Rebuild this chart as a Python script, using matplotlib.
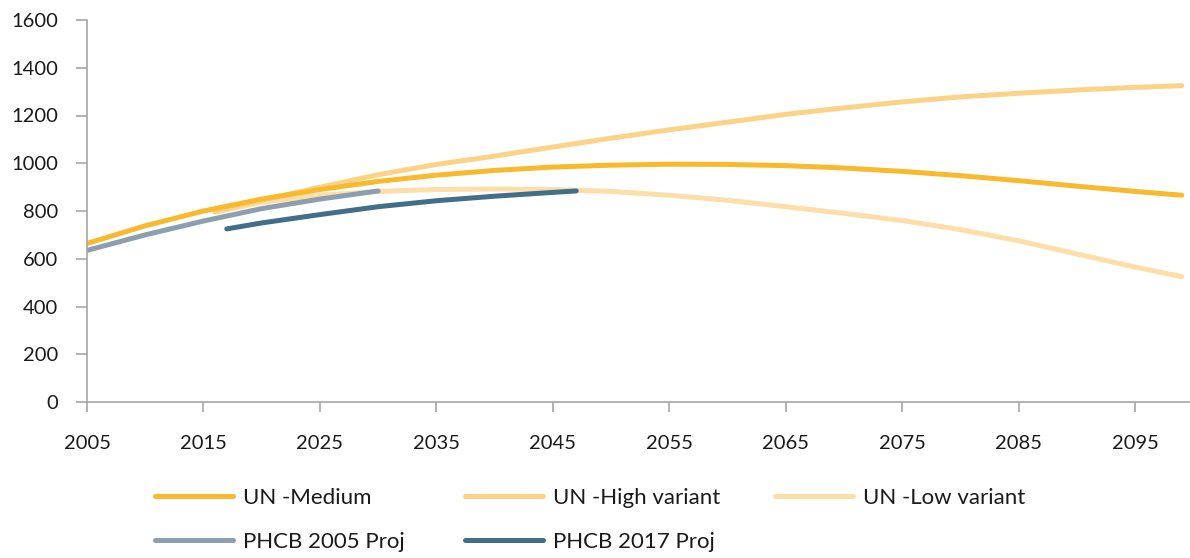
import matplotlib
matplotlib.use("Agg")
import matplotlib.pyplot as plt

plt.rcParams['font.family'] = ['Lato', 'DejaVu Sans']

# ── Data ─────────────────────────────────────────────────────────────────────
years_un = [2005, 2010, 2015, 2020, 2025, 2030, 2035, 2040, 2045, 2050,
            2055, 2060, 2065, 2070, 2075, 2080, 2085, 2090, 2095, 2099]
un_medium = [664, 738, 800, 850, 890, 924, 950, 970, 984, 992,
             996, 995, 990, 980, 966, 948, 927, 904, 882, 866]

years_var = [2016, 2020, 2025, 2030, 2035, 2040, 2045, 2050, 2055,
             2060, 2065, 2070, 2075, 2080, 2085, 2090, 2095, 2099]
un_high = [797, 845, 900, 952, 995, 1030, 1068, 1105, 1140,
           1172, 1205, 1232, 1257, 1278, 1293, 1307, 1318, 1325]
un_low = [795, 836, 866, 882, 890, 892, 890, 882, 866,
          845, 818, 790, 760, 722, 675, 620, 565, 525]

years_p05 = [2005, 2010, 2015, 2020, 2025, 2030]
phcb_2005 = [635, 700, 758, 810, 850, 884]

years_p17 = [2017, 2020, 2025, 2030, 2035, 2040, 2045, 2047]
phcb_2017 = [725, 750, 785, 818, 843, 862, 878, 884]

x_ticks = list(range(2005, 2100, 10))
y_ticks = list(range(0, 1601, 200))

# ── Plot ─────────────────────────────────────────────────────────────────────
fig = plt.figure(figsize=(11.9, 5.58), dpi=100)
ax = fig.add_axes([87 / 1190, 1 - 402 / 558, 1 - 87 / 1190, (402 - 20) / 558])

lw = 3.6
l_low, = ax.plot(years_var, un_low, color='#FDDEA8', lw=lw,
                 solid_capstyle='round', label='UN -Low variant')
l_high, = ax.plot(years_var, un_high, color='#FCD386', lw=lw,
                  solid_capstyle='round', label='UN -High variant')
l_med, = ax.plot(years_un, un_medium, color='#F9B92C', lw=lw,
                 solid_capstyle='round', label='UN -Medium')
l_p05, = ax.plot(years_p05, phcb_2005, color='#8C9FB1', lw=lw,
                 solid_capstyle='round', label='PHCB 2005 Proj')
l_p17, = ax.plot(years_p17, phcb_2017, color='#436E89', lw=lw,
                 solid_capstyle='round', label='PHCB 2017 Proj')

ax.set_xlim(2005, 2099.7)
ax.set_ylim(0, 1600)
ax.set_xticks(x_ticks)
ax.set_yticks(y_ticks)

for s in ['top', 'right']:
    ax.spines[s].set_visible(False)
for s in ['left', 'bottom']:
    ax.spines[s].set_color('#A6A6A6')
    ax.spines[s].set_linewidth(1.2)

ax.tick_params(axis='x', direction='out', length=7.5, width=1.2,
               color='#A6A6A6', pad=16.5, labelsize=14.5, labelcolor='#1a1a1a')
ax.tick_params(axis='y', direction='out', length=8, width=1.2,
               color='#A6A6A6', pad=13, labelsize=14.5, labelcolor='#1a1a1a')

# legend: three columns, row-major order like the reference
leg_kw = dict(frameon=False, fontsize=16, handlelength=3.5,
              handletextpad=0.45, labelspacing=1.08, borderpad=0,
              borderaxespad=0, loc='center left')
leg1 = fig.legend(handles=[l_med, l_p05], bbox_to_anchor=(155 / 1190, 1 - 520 / 558), **leg_kw)
leg2 = fig.legend(handles=[l_high, l_p17], bbox_to_anchor=(465 / 1190, 1 - 520 / 558), **leg_kw)
leg3 = fig.legend(handles=[l_low], bbox_to_anchor=(775 / 1190, 1 - 498 / 558), **leg_kw)
for leg in (leg1, leg2, leg3):
    for t in leg.get_texts():
        t.set_color('#1a1a1a')

plt.savefig('out.png', dpi=100, facecolor='white')
